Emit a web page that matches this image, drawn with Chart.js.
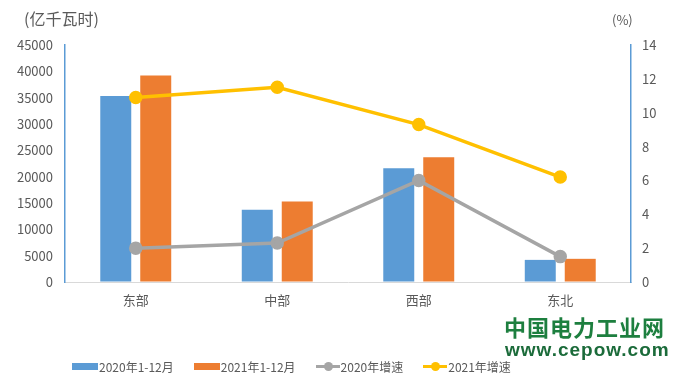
<!DOCTYPE html>
<html>
<head>
<meta charset="utf-8">
<script src="https://cdn.jsdelivr.net/npm/chart.js@4"></script>
<style>
    body { margin: 0; background: #fff; }
    #wrap { position: relative; width: 684px; height: 382px; font-family: "Noto Sans CJK SC", sans-serif; color: #595959; }
    canvas { position: absolute; left: 0; top: 0; }
    .t { position: absolute; white-space: nowrap; }
    .legend { position: absolute; top: 358px; left: 72px; font-size: 12px; display: flex; align-items: center; }
    .item { display: flex; align-items: center; margin-right: 20px; }
    .box { width: 26px; height: 7px; margin-right: 1px; }
    .ln { position: relative; width: 24px; height: 3px; margin-right: 1px; }
    .ln i { position: absolute; left: 8px; top: -3px; width: 9px; height: 9px; border-radius: 50%; }
    .wm1 { left: 504px; top: 310px; font-size: 22px; font-weight: bold; color: #1d7f3f; letter-spacing: 1px; }
    .wm2 { left: 505px; top: 339px; font-size: 19px; font-weight: bold; color: #1b6b3a; font-family: "Liberation Sans", sans-serif; letter-spacing: 1px; }
</style>
</head>
<body>
<div id="wrap">
    <canvas id="chart" width="684" height="382"></canvas>
    <div class="t" style="left:24px;top:6px;font-size:16px;">(亿千瓦时)</div>
    <div class="t" style="left:612px;top:10px;font-size:13px;">(%)</div>
    <div class="legend">
        <div class="item"><span class="box" style="background:#5b9bd5"></span>2020年1-12月</div>
        <div class="item"><span class="box" style="background:#ed7d31"></span>2021年1-12月</div>
        <div class="item"><span class="ln" style="background:#a5a5a5"><i style="background:#a5a5a5"></i></span>2020年增速</div>
        <div class="item"><span class="ln" style="background:#ffc000"><i style="background:#ffc000"></i></span>2021年增速</div>
    </div>
    <div class="t wm1">中国电力工业网</div>
    <div class="t wm2">www.cepow.com</div>
</div>
<script>
// data
const regions = ['东部', '中部', '西部', '东北'];
const power2020 = [35300, 13700, 21600, 4200];
const power2021 = [39200, 15300, 23700, 4400];
const growth2020 = [2.0, 2.3, 6.0, 1.5];
const growth2021 = [10.9, 11.5, 9.3, 6.2];
const leftTicks = [0, 5000, 10000, 15000, 20000, 25000, 30000, 35000, 40000, 45000];
const rightTicks = [0, 2, 4, 6, 8, 10, 12, 14];

const textColor = '#595959';
const tickFont = { family: '"Noto Sans CJK SC", sans-serif', size: 13 };

const chartConfig = {
    type: 'bar',
    data: {
        labels: regions,
        datasets: [
            { label: '2021年增速', type: 'line', data: growth2021, yAxisID: 'y1', order: 0,
              borderColor: '#ffc000', backgroundColor: '#ffc000', borderWidth: 3.5,
              pointRadius: 5, pointHoverRadius: 5 },
            { label: '2020年增速', type: 'line', data: growth2020, yAxisID: 'y1', order: 1,
              borderColor: '#a5a5a5', backgroundColor: '#a5a5a5', borderWidth: 3.5,
              pointRadius: 5, pointHoverRadius: 5 },
            { label: '2020年1-12月', data: power2020, yAxisID: 'y', order: 2,
              backgroundColor: '#5b9bd5', categoryPercentage: 0.565, barPercentage: 0.775 },
            { label: '2021年1-12月', data: power2021, yAxisID: 'y', order: 3,
              backgroundColor: '#ed7d31', categoryPercentage: 0.565, barPercentage: 0.775 }
        ]
    },
    options: {
        responsive: false,
        animation: false,
        layout: { padding: { top: 45, right: 0, left: 0, bottom: 0 } },
        plugins: { legend: { display: false }, tooltip: { enabled: false } },
        scales: {
            x: {
                grid: { display: false },
                border: { color: '#d9d9d9', width: 1 },
                ticks: { color: textColor, font: tickFont, padding: 2 },
                afterFit: s => { s.height = 100; }
            },
            y: {
                position: 'left',
                min: 0, max: 45000,
                afterBuildTicks: s => { s.ticks = leftTicks.map(v => ({ value: v })); },
                grid: { drawOnChartArea: false, drawTicks: false },
                border: { color: '#5b9bd5', width: 1.5 },
                ticks: { color: textColor, font: tickFont, padding: 12, callback: v => String(v) },
                afterFit: s => { s.width = 65; }
            },
            y1: {
                position: 'right',
                min: 0, max: 14,
                afterBuildTicks: s => { s.ticks = rightTicks.map(v => ({ value: v })); },
                grid: { drawOnChartArea: false, drawTicks: false },
                border: { color: '#5b9bd5', width: 1.5 },
                ticks: { color: textColor, font: tickFont, padding: 11, callback: v => String(v) },
                afterFit: s => { s.width = 53; }
            }
        }
    }
};

const chart = new Chart(document.getElementById('chart'), chartConfig);
</script>
</body>
</html>
